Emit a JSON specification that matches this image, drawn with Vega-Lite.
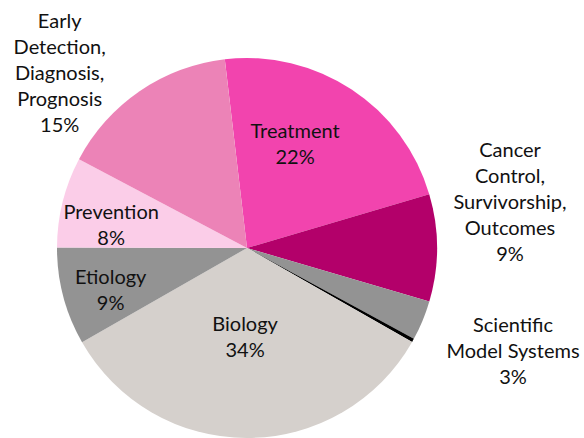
{
  "$schema": "https://vega.github.io/schema/vega-lite/v6.json",
  "width": 380,
  "height": 380,
  "autosize": {"type": "none"},
  "padding": {"left": 57, "top": 58, "right": 147, "bottom": 0},
  "background": "white",
  "config": {"view": {"stroke": null}, "text": {"font": "Lato", "fontSize": 20, "color": "#111111", "lineBreak": "\n", "lineHeight": 26}},
  "data": {"values": [
    {"id": 1, "category": "Treatment", "value": 22.3, "label": "Treatment\n22%"},
    {"id": 2, "category": "Cancer Control, Survivorship, Outcomes", "value": 9.1, "label": "Cancer\nControl,\nSurvivorship,\nOutcomes\n9%"},
    {"id": 3, "category": "Scientific Model Systems", "value": 3.4, "label": "Scientific\nModel Systems\n3%"},
    {"id": 4, "category": "Other", "value": 0.3, "label": ""},
    {"id": 5, "category": "Biology", "value": 33.5, "label": "Biology\n34%"},
    {"id": 6, "category": "Etiology", "value": 8.3, "label": "Etiology\n9%"},
    {"id": 7, "category": "Prevention", "value": 7.7, "label": "Prevention\n8%"},
    {"id": 8, "category": "Early Detection, Diagnosis, Prognosis", "value": 15.4, "label": "Early\nDetection,\nDiagnosis,\nPrognosis\n15%"}
  ]},
  "encoding": {
    "theta": {"field": "value", "type": "quantitative", "stack": true, "scale": {"range": [-0.117, 6.166]}},
    "order": {"field": "id", "type": "quantitative"}
  },
  "layer": [
    {
      "mark": {"type": "arc", "strokeWidth": 0},
      "encoding": {
        "color": {
          "field": "category", "type": "nominal", "legend": null,
          "scale": {
            "domain": ["Treatment", "Cancer Control, Survivorship, Outcomes", "Scientific Model Systems", "Other", "Biology", "Etiology", "Prevention", "Early Detection, Diagnosis, Prognosis"],
            "range": ["#F244AE", "#B3006A", "#939393", "#000000", "#D5D0CC", "#939393", "#FBCDE8", "#EC83B7"]
          }
        }
      }
    },
    {
      "mark": {"type": "text", "radius": 120, "dx": -18, "dy": -16},
      "encoding": {"text": {"condition": {"test": "datum.category === 'Treatment'", "field": "label"}, "value": ""}}
    },
    {
      "mark": {"type": "text", "radius": 90, "dx": -2, "dy": -13},
      "encoding": {"text": {"condition": {"test": "datum.category === 'Biology'", "field": "label"}, "value": ""}}
    },
    {
      "mark": {"type": "text", "radius": 140, "dx": -1, "dy": -6},
      "encoding": {"text": {"condition": {"test": "datum.category === 'Etiology'", "field": "label"}, "value": ""}}
    },
    {
      "mark": {"type": "text", "radius": 140, "dx": 0, "dy": -1},
      "encoding": {"text": {"condition": {"test": "datum.category === 'Prevention'", "field": "label"}, "value": ""}}
    },
    {
      "mark": {"type": "text", "radius": 250, "dx": -46, "dy": -20},
      "encoding": {"text": {"condition": {"test": "datum.category === 'Early Detection, Diagnosis, Prognosis'", "field": "label"}, "value": ""}}
    },
    {
      "mark": {"type": "text", "radius": 278, "dx": -15, "dy": -97},
      "encoding": {"text": {"condition": {"test": "datum.category === 'Cancer Control, Survivorship, Outcomes'", "field": "label"}, "value": ""}}
    },
    {
      "mark": {"type": "text", "radius": 290, "dx": -2, "dy": -33},
      "encoding": {"text": {"condition": {"test": "datum.category === 'Scientific Model Systems'", "field": "label"}, "value": ""}}
    }
  ]
}
